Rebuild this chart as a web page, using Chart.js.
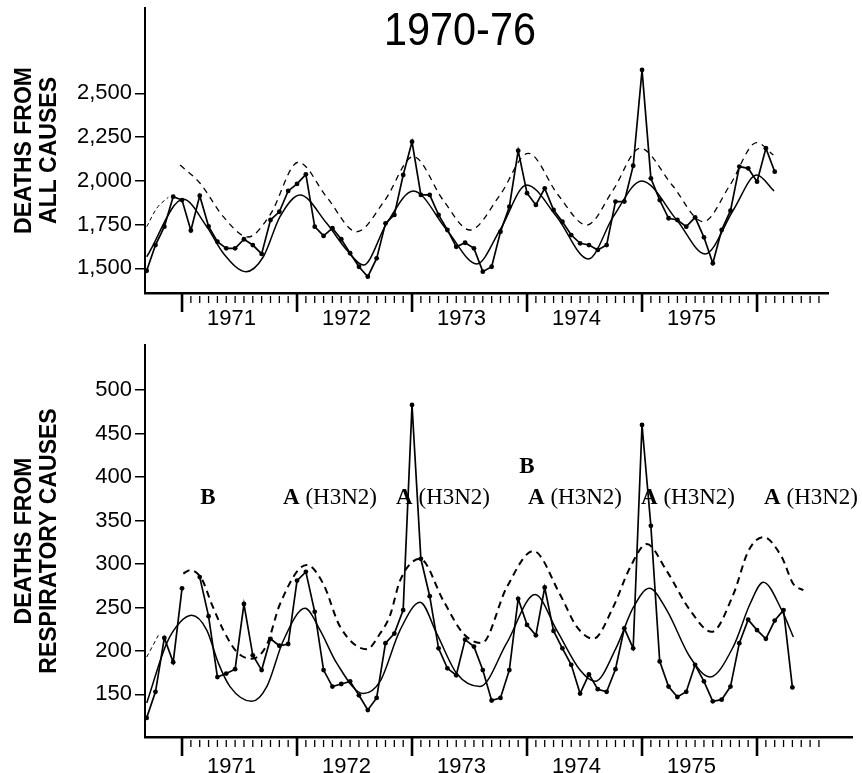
<!DOCTYPE html>
<html>
<head>
<meta charset="utf-8">
<script src="https://cdn.jsdelivr.net/npm/chart.js@4.4.1/dist/chart.umd.min.js"></script>
<style>
html,body{margin:0;padding:0;background:#fff;width:862px;height:773px;overflow:hidden;}
#wrap{position:relative;width:862px;height:773px;}
#c1{position:absolute;left:0;top:0;}
#c2{position:absolute;left:0;top:335px;}
#title{position:absolute;left:360px;width:200px;top:6px;text-align:center;font-family:"Liberation Sans",Arial,sans-serif;font-size:46px;line-height:46px;color:#000;transform:scaleX(0.9);}
</style>
</head>
<body>
<div id="wrap">
<canvas id="c1" width="862" height="335"></canvas>
<canvas id="c2" width="862" height="438"></canvas>
<div id="title">1970-76</div>
</div>
<script>
// ---- categories / time base (4-week periods, 13 per year) ----
const PERIODS_PER_YEAR = 13;
const FIRST_PERIOD_YEAR = 1971 - 4 / 13;
const yearLabels = [1971, 1972, 1973, 1974, 1975];
const allTicks = [1500, 1750, 2000, 2250, 2500];
const respTicks = [150, 200, 250, 300, 350, 400, 450, 500];

// ---- deaths from all causes ----
const allCausesObserved = [1486,1633,1738,1909,1890,1716,1915,1740,1652,1614,1614,1666,1633,1582,1776,1823,1942,1982,2037,1738,1685,1729,1666,1586,1509,1452,1557,1757,1805,2033,2223,1919,1919,1805,1719,1623,1646,1614,1481,1509,1709,1852,2172,1929,1862,1957,1833,1766,1690,1643,1633,1605,1633,1881,1881,2086,2633,2014,1890,1786,1776,1738,1791,1677,1529,1719,1829,2081,2071,1995,2186,2052];
const allBaselineX = [1970.693,1971.011,1971.215,1971.359,1971.557,1971.707,1971.852,1972.026,1972.258,1972.432,1972.577,1972.780,1973.011,1973.302,1973.563,1973.765,1973.997,1974.258,1974.533,1974.750,1974.997,1975.302,1975.548,1975.794,1975.997,1976.148];
const allBaselineY = [1566,1894,1738,1586,1481,1566,1795,1919,1757,1605,1519,1757,1942,1719,1525,1719,1976,1795,1553,1795,1999,1776,1582,1833,2033,1942];
const allThresholdX = [1970.983,1971.157,1971.359,1971.574,1971.765,1972.011,1972.258,1972.519,1972.765,1973.011,1973.270,1973.504,1973.765,1974.011,1974.270,1974.519,1974.748,1974.983,1975.261,1975.533,1975.765,1975.997,1976.142];
const allThresholdY = [2090,1986,1795,1679,1805,2106,1907,1709,1890,2138,1890,1719,1919,2157,1919,1747,1947,2186,1976,1766,1976,2218,2147];
const allEarlyX = [1970.693,1970.780,1970.881];
const allEarlyY = [1738,1843,1906];

// ---- deaths from respiratory causes ----
const respObserved = [123,153,215,187,272,null,285,240,170,174,179,254,195,178,214,206,208,281,291,245,178,159,162,165,149,132,146,209,220,247,483,306,263,203,180,172,213,205,178,143,146,178,260,230,218,273,223,203,184,151,173,156,153,179,226,203,460,344,188,159,147,153,184,165,142,144,159,209,236,224,214,235,247,158];
const respBaselineX = [1970.693,1970.867,1970.983,1971.084,1971.215,1971.316,1971.417,1971.606,1971.737,1971.881,1972.070,1972.200,1972.345,1972.577,1972.722,1972.896,1973.070,1973.215,1973.389,1973.591,1973.823,1974.070,1974.258,1974.461,1974.591,1974.780,1974.924,1975.063,1975.215,1975.417,1975.591,1975.794,1975.939,1976.055,1976.215,1976.316];
const respBaselineY = [140,209,233,241,224,186,159,142,159,212,249,224,186,151,165,224,256,220,174,159,209,265,224,178,165,205,250,272,247,193,170,205,254,279,247,216];
const respThresholdX = [1971.011,1971.070,1971.171,1971.258,1971.359,1971.476,1971.606,1971.737,1971.852,1972.084,1972.229,1972.374,1972.606,1972.722,1972.809,1972.896,1973.070,1973.272,1973.446,1973.606,1973.823,1974.055,1974.287,1974.432,1974.577,1974.748,1974.896,1975.041,1975.215,1975.417,1975.606,1975.794,1975.925,1976.055,1976.215,1976.316,1976.403];
const respThresholdY = [289,293,283,254,224,199,191,207,254,299,277,228,202,220,241,281,306,258,220,209,273,315,265,228,214,250,296,323,292,247,222,265,315,331,308,277,270];
const respEarlyX = [1970.693,1970.794];
const respEarlyY = [193,218];

// ---- influenza strain annotations ----
const strainLabels = ['B','A (H3N2)','A (H3N2)','B','A (H3N2)','A (H3N2)','A (H3N2)'];
const strainX = [1971.226,1972.287,1973.270,1974.0,1974.417,1975.400,1976.470];
const strainY = [376,376,376,412,376,376,376];

const X_MIN = 1970.678;
const LABEL_OFFSET = 0.43;

function periodSeries(vals){ return vals.map((v,k)=>({x: FIRST_PERIOD_YEAR + k/PERIODS_PER_YEAR, y: v})); }
function xySeries(xs, ys){ return xs.map((x,i)=>({x, y: ys[i]})); }

const periodTickPlugin = {
  id: 'periodTicks',
  afterDraw(chart){
    const {ctx, chartArea} = chart;
    const x = chart.scales.x;
    const yb = chartArea.bottom;
    ctx.save();
    ctx.strokeStyle = '#000';
    for (let k = 4; k <= 76; k++){
      const v = FIRST_PERIOD_YEAR + k/PERIODS_PER_YEAR;
      if (v > x.max - 0.05) break;
      const px = x.getPixelForValue(v);
      const major = (k - 4) % PERIODS_PER_YEAR === 0;
      ctx.lineWidth = major ? 2.6 : 1.3;
      ctx.beginPath();
      ctx.moveTo(px, major ? yb : yb + 3);
      ctx.lineTo(px, major ? yb + 19 : yb + 10);
      ctx.stroke();
    }
    ctx.restore();
  }
};

const strainPlugin = {
  id: 'strains',
  afterDatasetsDraw(chart){
    if (chart.canvas.id !== 'c2') return;
    const {ctx} = chart;
    const x = chart.scales.x, y = chart.scales.y;
    ctx.save();
    ctx.fillStyle = '#000';
    ctx.textBaseline = 'middle';
    ctx.textAlign = 'left';
    const fb = 'bold 23px "Liberation Serif", "Times New Roman", serif';
    const fr = '23px "Liberation Serif", "Times New Roman", serif';
    strainLabels.forEach((t, i) => {
      const px = x.getPixelForValue(strainX[i]);
      const py = y.getPixelForValue(strainY[i]);
      const head = t.charAt(0), tail = t.slice(1);
      ctx.font = fb; const w1 = ctx.measureText(head).width;
      ctx.font = fr; const w2 = ctx.measureText(tail).width;
      const sx = px - (w1 + w2) / 2;
      ctx.font = fb; ctx.fillText(head, sx, py);
      if (tail) { ctx.font = fr; ctx.fillText(tail, sx + w1, py); }
    });
    ctx.restore();
  }
};

function makeChart(id, cfg){
  const xAxisH = cfg.canvasH - cfg.bottom;
  return new Chart(document.getElementById(id), {
    type: 'line',
    data: { datasets: [
      { data: xySeries(cfg.earlyX, cfg.earlyY), borderColor:'#000', borderWidth:1, borderDash:[4,3], pointRadius:0, cubicInterpolationMode:'monotone', fill:false },
      { data: xySeries(cfg.threshX, cfg.threshY), borderColor:'#000', borderWidth:cfg.dashW, borderDash:cfg.dash, pointRadius:0, cubicInterpolationMode:'monotone', fill:false },
      { data: xySeries(cfg.baseX, cfg.baseY), borderColor:'#000', borderWidth:1.5, pointRadius:0, cubicInterpolationMode:'monotone', fill:false },
      { data: periodSeries(cfg.observed), borderColor:'#000', borderWidth:1.7, pointRadius:2.4, pointBackgroundColor:'#000', pointBorderWidth:0, tension:0, spanGaps:false, fill:false }
    ]},
    options: {
      responsive:false, animation:false, devicePixelRatio:1,
      layout:{ padding:{ top: cfg.top, right: 862 - cfg.right, left:0, bottom:0 } },
      plugins:{ legend:{display:false}, tooltip:{enabled:false}, title:{display:false} },
      scales:{
        x:{
          type:'linear', min:X_MIN, max:cfg.xMax,
          grid:{ display:false, drawTicks:false },
          border:{ display:true, color:'#000', width:2.5 },
          afterBuildTicks: s => { s.ticks = yearLabels.map(yr => ({ value: yr + LABEL_OFFSET })); },
          ticks:{ autoSkip:false, maxRotation:0, padding:cfg.labelPad, color:'#000', font:{ family:'"Liberation Sans", Arial, sans-serif', size:22 }, callback: v => String(Math.floor(v)) },
          afterFit: s => { s.height = xAxisH; s.paddingLeft = 0; s.paddingRight = 0; }
        },
        y:{
          type:'linear', min:cfg.yMin, max:cfg.yMax,
          afterBuildTicks: s => { s.ticks = cfg.ticks.map(v => ({ value: v })); },
          grid:{ drawOnChartArea:false, drawTicks:true, tickLength:10, color:'#000', lineWidth:1.5 },
          border:{ display:true, color:'#000', width:2 },
          ticks:{ padding:3, color:'#000', font:{ family:'"Liberation Sans", Arial, sans-serif', size:22 }, callback: v => v.toLocaleString('en-US') },
          title:{ display:true, text:cfg.yTitle, color:'#000', font:{ family:'"Liberation Sans", Arial, sans-serif', size:23, weight:'bold', lineHeight:1.1 }, padding:{ top:12, bottom:0 } },
          afterFit: s => { s.width = 145; s.paddingTop = 0; s.paddingBottom = 0; }
        }
      }
    },
    plugins:[periodTickPlugin, strainPlugin]
  });
}

makeChart('c1', {
  canvasH:335, top:8, bottom:293, right:828, xMax:1976.617, yMin:1359, yMax:2987, labelPad:13,
  ticks:allTicks, yTitle:['DEATHS FROM','ALL CAUSES'],
  observed:allCausesObserved, baseX:allBaselineX, baseY:allBaselineY,
  threshX:allThresholdX, threshY:allThresholdY, earlyX:allEarlyX, earlyY:allEarlyY,
  dash:[6,5], dashW:1.3
});
makeChart('c2', {
  canvasH:438, top:10, bottom:402, right:852, xMax:1976.826, yMin:101, yMax:552, labelPad:17,
  ticks:respTicks, yTitle:['DEATHS FROM','RESPIRATORY CAUSES'],
  observed:respObserved, baseX:respBaselineX, baseY:respBaselineY,
  threshX:respThresholdX, threshY:respThresholdY, earlyX:respEarlyX, earlyY:respEarlyY,
  dash:[7,5], dashW:2
});
</script>
</body>
</html>
